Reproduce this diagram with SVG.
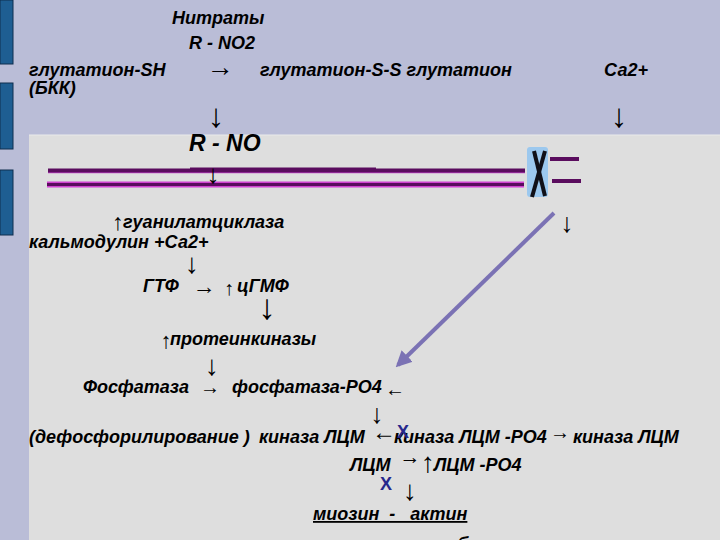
<svg xmlns="http://www.w3.org/2000/svg" width="720" height="540" viewBox="0 0 720 540">
<defs>
<style>
.t{font-family:"Liberation Sans",Arial,sans-serif;font-size:18px;font-weight:bold;font-style:italic;fill:#000}
.a{font-family:"Liberation Sans",Arial,sans-serif;font-weight:normal;font-style:normal;fill:#000;text-anchor:middle}
.bar{fill:#1E5E92;stroke:#0E2E4E;stroke-width:1}
.mem{stroke:#5A0C5E;stroke-width:4;fill:none}
.x{font-family:"Liberation Sans",Arial,sans-serif;font-weight:bold;font-size:18px;fill:#26288C}
</style>
<marker id="ah" viewBox="0 0 10 10" refX="8" refY="5" markerWidth="4" markerHeight="4" orient="auto">
<path d="M0,0 L10,5 L0,10 z" fill="#7B72B4"/>
</marker>
</defs>
<rect x="0" y="0" width="720" height="540" fill="#BABDD7"/>
<rect x="29" y="135" width="691" height="405" fill="#DEDEDE"/>
<line x1="29" y1="135" x2="720" y2="135" stroke="#EAEAEA" stroke-width="1"/>
<rect class="bar" x="0" y="0" width="13" height="64"/>
<rect class="bar" x="0" y="83" width="13" height="66"/>
<rect class="bar" x="0" y="170" width="13" height="65"/>

<g id="connectors">
<line x1="48" y1="172.5" x2="525" y2="172.5" stroke="#C040C8" stroke-width="1.5"/>
<line class="mem" x1="48" y1="170.5" x2="525" y2="170.5"/>
<line class="mem" x1="190" y1="169.5" x2="376" y2="169.5"/>
<line x1="47" y1="184.5" x2="524" y2="184.5" stroke="#D040D0" stroke-width="6"/>
<line x1="47" y1="184.5" x2="524" y2="184.5" stroke="#5A0C5E" stroke-width="3"/>
<line class="mem" x1="550" y1="159" x2="579" y2="159"/>
<line class="mem" x1="552" y1="181" x2="581" y2="181"/>
<line x1="554" y1="213" x2="398" y2="365" stroke="#7B72B4" stroke-width="4" marker-end="url(#ah)"/>
</g>

<g id="channel">
<rect x="527" y="147" width="21" height="50" rx="3" fill="#9CC8EE"/>
<line x1="534" y1="151" x2="545" y2="196" stroke="#101018" stroke-width="4"/>
<line x1="545" y1="151" x2="532" y2="197" stroke="#101018" stroke-width="4"/>
</g>

<g id="n-nitrates"><text class="t" x="172" y="24">Нитраты</text></g>
<g id="n-rno2"><text class="t" x="189" y="49">R - NO2</text></g>
<g id="n-glut-sh"><text class="t" x="29" y="76">глутатион-SH</text><text class="t" x="29" y="94">(БКК)</text></g>
<g id="n-arrow1"><text class="a" x="220" y="76" font-size="27">→</text></g>
<g id="n-glut-ss"><text class="t" x="260" y="76">глутатион-S-S глутатион</text></g>
<g id="n-ca"><text class="t" x="604" y="76">Са2+</text></g>
<g id="n-down1"><text class="a" x="216" y="127" font-size="33">↓</text></g>
<g id="n-down-ca"><text class="a" x="619" y="127" font-size="33">↓</text></g>
<g id="n-rno"><text class="t" x="189" y="151" style="font-size:23px">R - NO</text></g>
<g id="n-down2"><text class="a" x="213" y="183" font-size="26">↓</text></g>
<g id="n-down3"><text class="a" x="567" y="232" font-size="27">↓</text></g>
<g id="n-gc"><text class="a" x="118" y="230" font-size="23">↑</text><text class="t" x="123" y="228">гуанилатциклаза</text></g>
<g id="n-calm"><text class="t" x="29" y="248">кальмодулин +Са2+</text></g>
<g id="n-down4"><text class="a" x="192" y="273" font-size="28">↓</text></g>
<g id="n-gtp"><text class="t" x="143" y="292">ГТФ</text><text class="a" x="204" y="294" font-size="23">→</text><text class="a" x="229" y="295" font-size="20">↑</text><text class="t" x="237" y="292">цГМФ</text></g>
<g id="n-down5"><text class="a" x="267" y="319" font-size="35">↓</text></g>
<g id="n-pk"><text class="a" x="166" y="348" font-size="22">↑</text><text class="t" x="170" y="345">протеинкиназы</text></g>
<g id="n-down6"><text class="a" x="212" y="375" font-size="28">↓</text></g>
<g id="n-phos"><text class="t" x="83" y="393">Фосфатаза</text><text class="a" x="210" y="394" font-size="20">→</text><text class="t" x="232" y="393">фосфатаза-РО4</text><text class="a" x="395" y="396" font-size="20">←</text></g>
<g id="n-down7"><text class="a" x="377" y="423" font-size="27">↓</text></g>
<g id="n-kinase"><text class="t" x="29" y="443">(дефосфорилирование )</text><text class="t" x="259" y="443">киназа ЛЦМ</text><text class="a" x="384" y="440" font-size="24">←</text><text class="t" x="394" y="443">киназа ЛЦМ -РО4</text><text class="a" x="560" y="439" font-size="20">→</text><text class="t" x="573" y="443">киназа ЛЦМ</text></g>
<g id="n-x1"><text class="x" x="397" y="438">X</text></g>
<g id="n-lcm"><text class="t" x="350" y="471">ЛЦМ</text><text class="a" x="410" y="464" font-size="21">→</text><text class="a" x="428" y="472" font-size="28">↑</text><text class="t" x="434" y="471">ЛЦМ -РО4</text></g>
<g id="n-x2"><text class="x" x="380" y="490">X</text></g>
<g id="n-down8"><text class="a" x="410" y="500" font-size="28">↓</text></g>
<g id="n-myosin"><text class="t" x="313" y="520" xml:space="preserve" text-decoration="underline">миозин  -   актин</text></g>
<g id="n-relax"><text class="t" x="395" y="550">расслабление</text></g>
</svg>
